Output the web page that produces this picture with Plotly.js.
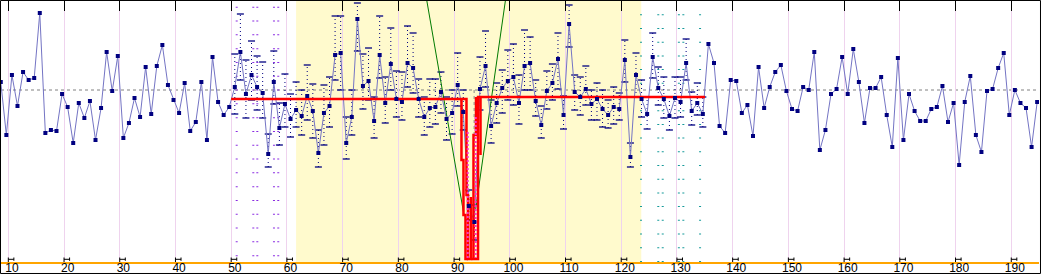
<!DOCTYPE html>
<html><head><meta charset="utf-8">
<script src="https://cdn.plot.ly/plotly-3.0.1.min.js"></script>
<style>html,body{margin:0;padding:0;background:#fff;}#chart{width:1041px;height:274px;}</style>
</head><body><div id="chart"></div>
<script>
// ---- data ----
const firstSample = 8;
const values = [
 18.0,12.7,18.7,15.6,19.0,18.2,18.4,24.9,12.9,13.2,
 13.1,16.8,15.5,11.9,15.9,14.4,16.1,12.2,15.4,21.0,
 17.1,20.6,12.4,13.9,16.4,14.5,19.5,14.8,19.6,21.7,
 17.7,16.2,14.9,17.9,13.1,14.0,18.0,12.2,20.5,16.0,
 14.7,15.5,17.5,21.0,16.8,18.7,17.5,16.9,10.8,18.0,
 13.4,15.8,14.3,15.2,14.6,16.6,15.1,10.9,14.9,15.6,
 20.7,20.9,11.9,14.5,24.3,17.6,18.1,14.1,20.7,15.9,
 19.8,16.3,16.0,19.9,19.4,16.3,14.5,15.4,15.5,17.0,
 14.3,14.9,17.7,15.0,5.6,4.0,17.3,19.6,13.6,15.9,
 17.4,18.1,18.5,15.9,19.6,19.9,16.1,13.7,17.1,17.9,
 20.3,14.7,23.8,17.0,16.5,17.3,15.8,16.3,15.3,14.7,
 15.5,15.3,20.2,10.5,18.7,16.3,14.8,20.5,17.4,16.3,
 14.6,16.4,16.0,19.9,15.1,15.9,14.8,21.8,19.9,13.6,
 12.9,18.2,18.1,14.9,15.7,12.6,19.5,15.4,17.5,19.0,
 19.7,17.1,15.3,15.1,17.5,17.2,21.0,11.2,13.2,16.8,
 17.3,20.5,16.8,21.3,18.0,13.9,17.4,17.4,18.5,14.7,
 11.5,20.4,12.2,16.8,15.1,14.1,14.1,15.3,15.5,17.6,
 14.0,15.9,9.7,16.0,18.6,12.7,11.0,17.1,17.3,19.4,
 20.9,14.7,17.2,15.9,15.4,11.5,16.0
];
const errFirst = 50;
const errUp = [
 3.3,3.8,3.4,3.4,3.1,3.1,2.0,3.1,2.5,3.0,
 2.5,2.8,2.6,3.1,2.7,2.3,2.8,2.9,3.9,3.7,
 2.6,2.7,1.6,3.2,3.3,2.4,3.9,2.6,3.6,2.8,
 3.0,3.7,3.5,2.0,2.0,2.9,2.8,2.0,2.2,2.3,
 3.2,2.2,1.6,1.7,3.2,3.5,2.6,2.0,1.8,3.1,
 3.3,2.8,3.6,2.6,2.1,1.9,2.0,1.9,2.6,1.9,
 1.9,1.7,2.0,2.3,1.4,1.6,1.9,1.5,2.0,1.6,
 2.0,1.4,2.2,1.9,1.7,2.4,2.1,2.2,1.9,2.1,
 2.5,2.4,1.9,2.0,1.7
];
const errDown = [
 2.7,2.8,2.4,2.5,2.3,2.5,1.3,2.2,1.7,2.3,
 1.8,1.7,1.9,2.4,2.7,1.4,3.2,2.1,2.5,3.7,
 1.6,1.8,3.2,2.3,1.9,1.7,2.3,2.0,2.6,1.8,
 1.8,2.4,2.5,1.8,1.8,1.9,1.7,2.1,2.1,2.1,
 2.1,1.8,1.4,1.8,2.1,2.1,1.7,2.0,2.5,1.9,
 2.8,2.1,2.4,2.7,1.5,1.3,1.8,1.7,3.0,1.4,
 2.3,1.8,1.8,1.6,1.6,2.1,1.8,1.3,1.7,1.1,
 2.2,1.0,2.2,1.8,1.5,2.1,1.7,1.9,1.4,2.0,
 1.5,1.7,1.4,1.2,1.3
];
const meanLevel = 17.2;
const tickLabels = [10,20,30,40,50,60,70,80,90,100,110,120,130,140,150,160,170,180,190];
const regionStart = 61.0, regionEnd = 122.95;
const purpleCols = [50.34, 53.32, 54.04, 57.03, 57.8];
const tealCols = [122.9, 126.0, 126.8, 129.7, 130.5, 133.5];
// change-point band (step outlines)
const bandA_x = [49.35, 91.58, 91.58, 91.85, 91.85, 92.39, 92.39];
const bandA_y = [16.3, 16.3, 6.7, 6.7, 0.3, 0.3, 6.5];
const bandB_x = [90.68, 90.68, 91.04, 91.04, 91.40, 91.40, 91.85];
const bandB_y = [16.3, 10.2, 10.2, 4.7, 4.7, 0.3, 0.3];
const bandC_x = [92.48, 93.65, 93.65, 134.38];
const bandC_y = [0.3, 0.3, 16.5, 16.5];
const bandD_x = [92.84, 92.84, 93.29, 93.29];
const bandD_y = [0.3, 12.7, 12.7, 16.5];
const bandE_x = [94.10, 94.10];
const bandE_y = [16.5, 10.7];
const pinkLeft_x = [91.8, 91.8], pinkLeft_y = [13.0, 0.4];
const pinkRight_x = [93.24, 93.24], pinkRight_y = [14.5, 0.4];
const greenL_x = [84.44, 91.13], greenL_y = [26.2, 4.7];
const greenR_x = [98.58, 93.2], greenR_y = [26.2, 5.2];
const grayV_x = [92.95, 92.95], grayV_y = [17.2, 11.5];

// ---- build ----
const xs = values.map((v,i)=>firstSample+i);
const gridPos = tickLabels.map(n=>n-0.65);
const ex=[], ey=[], cx=[], cy=[];
errUp.forEach((u,i)=>{
  const n = errFirst+i, v = values[n-firstSample], d = errDown[i];
  ex.push(n,n,null); ey.push(v-d, v+u, null);
  cx.push(n,n); cy.push(v+u, v-d);
});
const X0 = 8.04, X1 = 194.33;

const red = {color:'#ff0000', width:2.5};
const traces = [
  {x:[tickLabels[0]], y:[meanLevel], xaxis:'x2', mode:'markers', marker:{opacity:0}, hoverinfo:'skip', showlegend:false},
  {x:ex, y:ey, mode:'lines', line:{color:'#000080', width:1, dash:'1px,3px'}, hoverinfo:'skip', showlegend:false},
  {x:cx, y:cy, mode:'markers', marker:{symbol:'line-ew', size:5, color:'#000080', line:{color:'#000080', width:1.3}}, hoverinfo:'skip', showlegend:false},
  {x:greenL_x, y:greenL_y, mode:'lines', line:{color:'#007a00', width:1}, showlegend:false},
  {x:greenR_x, y:greenR_y, mode:'lines', line:{color:'#007a00', width:1}, showlegend:false},
  {x:grayV_x, y:grayV_y, mode:'lines', line:{color:'#888888', width:1, dash:'3px,3px'}, showlegend:false},
  {x:xs, y:values, mode:'lines', line:{color:'#7474c4', width:1}, showlegend:false},
  {x:bandA_x, y:bandA_y, mode:'lines', line:red, showlegend:false},
  {x:bandB_x, y:bandB_y, mode:'lines', line:red, showlegend:false},
  {x:bandC_x, y:bandC_y, mode:'lines', line:red, showlegend:false},
  {x:bandD_x, y:bandD_y, mode:'lines', line:red, showlegend:false},
  {x:bandE_x, y:bandE_y, mode:'lines', line:red, showlegend:false},
  {x:pinkLeft_x, y:pinkLeft_y, mode:'lines', line:{color:'#ff33c0', width:2, dash:'2px,2px'}, showlegend:false},
  {x:pinkRight_x, y:pinkRight_y, mode:'lines', line:{color:'#ff33c0', width:2, dash:'2px,2px'}, showlegend:false},
  {x:xs, y:values, mode:'markers', marker:{symbol:'square', size:4, color:'#000080'}, showlegend:false}
];

const shapes = [
  {type:'rect', xref:'x', yref:'paper', x0:regionStart, x1:regionEnd, y0:0, y1:1, fillcolor:'#fffacd', line:{width:0}, layer:'below'},
  {type:'line', xref:'paper', yref:'y', x0:0, x1:1, y0:meanLevel, y1:meanLevel, line:{color:'#808080', width:1, dash:'3px,3px'}, layer:'between'}
];
purpleCols.forEach(c=>shapes.push({type:'line', xref:'x', yref:'paper', x0:c, x1:c, y0:0.978, y1:0, line:{color:'#8a2be2', width:2, dash:'1px,12.8px'}, layer:'below'}));
tealCols.forEach(c=>shapes.push({type:'line', xref:'x', yref:'paper', x0:c, x1:c, y0:0.949, y1:0, line:{color:'#159a9a', width:2, dash:'1px,12.7px'}, layer:'below'}));
gridPos.forEach(g=>{
  shapes.push({type:'path', xref:'x', yref:'y', path:`M${g},0 L${g},0.45 M${g},0.27 L${g+1},0.27 M${g+1},0.45 L${g+1},0.12`, line:{color:'#000', width:1}, layer:'above'});
});
shapes.push({type:'rect', xref:'paper', yref:'paper', x0:-0.00048, x1:1.00144, y0:-0.04406, y1:1.00192, line:{color:'#000', width:1}, fillcolor:'rgba(0,0,0,0)', layer:'above'});

const layout = {
  width:1041, height:274,
  margin:{l:1, r:2, t:1, b:12, pad:0},
  paper_bgcolor:'#ffffff', plot_bgcolor:'#ffffff',
  showlegend:false,
  font:{family:'Liberation Sans, Arial, sans-serif', size:12, color:'#000'},
  xaxis:{range:[X0,X1], tickmode:'array', tickvals:tickLabels, ticktext:tickLabels.map(String),
    showgrid:false, zeroline:false, showline:true, linecolor:'#ffa500', linewidth:2,
    ticks:'', ticklabelstandoff:-6, tickfont:{size:12, color:'#000'}, fixedrange:true},
  xaxis2:{range:[X0,X1], overlaying:'x', side:'top', tickmode:'array', tickvals:gridPos, showticklabels:false,
    ticks:'inside', ticklen:10, tickcolor:'#000', tickwidth:1, showgrid:true, gridcolor:'#efd3ee', gridwidth:1,
    zeroline:false, showline:false, fixedrange:true},
  yaxis:{range:[0,26.1], showticklabels:false, showgrid:false, zeroline:false, showline:true, linecolor:'#e4b0e4', linewidth:2, ticks:'', fixedrange:true},
  shapes:shapes
};
Plotly.newPlot('chart', traces, layout, {staticPlot:true, displayModeBar:false});
</script></body></html>
